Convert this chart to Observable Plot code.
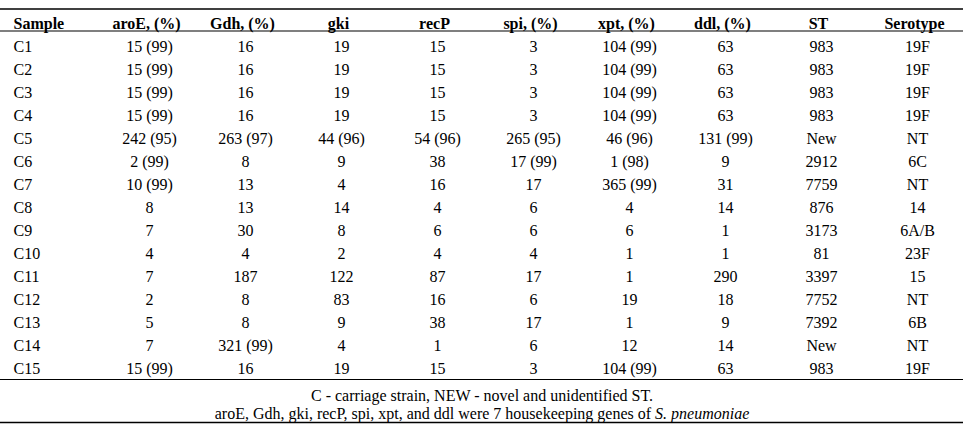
<!DOCTYPE html>
<html>
<head>
<meta charset="utf-8">
<script src="https://cdn.jsdelivr.net/npm/d3@7"></script>
<script src="https://cdn.jsdelivr.net/npm/@observablehq/plot@0.6"></script>
<style>
  html, body { margin: 0; padding: 0; background: #fff; }
  #chart svg { display: block; }
</style>
</head>
<body>
<div id="chart"></div>
<script>
// ---- data ----
const columns = ["Sample", "aroE, (%)", "Gdh, (%)", "gki", "recP", "spi, (%)", "xpt, (%)", "ddl, (%)", "ST", "Serotype"];
const samples = ["C1","C2","C3","C4","C5","C6","C7","C8","C9","C10","C11","C12","C13","C14","C15"];
const aroE = ["15 (99)","15 (99)","15 (99)","15 (99)","242 (95)","2 (99)","10 (99)","8","7","4","7","2","5","7","15 (99)"];
const gdh = ["16","16","16","16","263 (97)","8","13","13","30","4","187","8","8","321 (99)","16"];
const gki = ["19","19","19","19","44 (96)","9","4","14","8","2","122","83","9","4","19"];
const recP = ["15","15","15","15","54 (96)","38","16","4","6","4","87","16","38","1","15"];
const spi = ["3","3","3","3","265 (95)","17 (99)","17","6","6","4","17","6","17","6","3"];
const xpt = ["104 (99)","104 (99)","104 (99)","104 (99)","46 (96)","1 (98)","365 (99)","4","6","1","1","19","1","12","104 (99)"];
const ddl = ["63","63","63","63","131 (99)","9","31","14","1","1","290","18","9","14","63"];
const st = ["983","983","983","983","New","2912","7759","876","3173","81","3397","7752","7392","New","983"];
const serotype = ["19F","19F","19F","19F","NT","6C","NT","14","6A/B","23F","15","NT","6B","NT","19F"];
const captionLines = [
  "C - carriage strain, NEW - novel and unidentified ST.",
  "aroE, Gdh, gki, recP, spi, xpt, and ddl were 7 housekeeping genes of S. pneumoniae"
];
const italicPhrase = "S. pneumoniae";

// ---- build table ----
const HEAD = "__header__";
const valueCols = [aroE, gdh, gki, recP, spi, xpt, ddl, st, serotype];
const cells = [];
samples.forEach((s, i) => {
  valueCols.forEach((arr, j) => cells.push({row: s, col: columns[j + 1], value: arr[i]}));
});
const sampleRows = samples.map(s => ({row: s}));
const lastRow = samples[samples.length - 1];

const font = "Liberation Serif";
const fs = 16;

const chart = Plot.plot({
  width: 963,
  height: 433,
  marginLeft: 0,
  marginRight: 0,
  marginTop: 16,
  marginBottom: 57.5,
  style: {fontFamily: font, fontSize: "16px", color: "#000", background: "#fff"},
  x: {type: "band", domain: columns, padding: 0, axis: null},
  y: {type: "point", domain: [HEAD, ...samples], padding: 0, axis: null},
  marks: [
    // rules
    Plot.ruleY([HEAD], {y: d => d, dy: -14.5, stroke: "#000", strokeWidth: 1.5}),
    Plot.ruleY([HEAD], {y: d => d, dy: 7.5, stroke: "#000", strokeWidth: 1.2}),
    Plot.ruleY([lastRow], {y: d => d, dy: 11, stroke: "#000", strokeWidth: 1.2}),
    Plot.ruleY([lastRow], {y: d => d, dy: 54, stroke: "#000", strokeWidth: 1.5}),
    // header
    Plot.text(columns.slice(1), {x: d => d, y: () => HEAD, text: d => d, fontWeight: "bold", fill: "#000", fontFamily: font, fontSize: fs}),
    Plot.text([columns[0]], {y: () => HEAD, text: d => d, frameAnchor: "left", textAnchor: "start", dx: 13, fontWeight: "bold", fill: "#000", fontFamily: font, fontSize: fs}),
    // body
    Plot.text(sampleRows, {y: "row", text: "row", frameAnchor: "left", textAnchor: "start", dx: 13, fill: "#000", fontFamily: font, fontSize: fs}),
    Plot.text(cells, {x: "col", y: "row", text: "value", dx: 3, fill: "#000", fontFamily: font, fontSize: fs}),
    // captions
    Plot.text([captionLines[0]], {text: d => d, frameAnchor: "bottom", dy: 25, fill: "#000", fontFamily: font, fontSize: fs}),
    Plot.text([captionLines[1]], {text: d => d, frameAnchor: "bottom", dy: 43, fill: "#000", fontFamily: font, fontSize: fs})
  ]
});

// italicize the species name in the caption
d3.select(chart).selectAll("text").each(function() {
  const t = this.textContent;
  if (t === captionLines[1]) {
    const idx = t.indexOf(italicPhrase);
    const sel = d3.select(this);
    sel.text(null);
    sel.append("tspan").text(t.slice(0, idx));
    sel.append("tspan").attr("font-style", "italic").text(italicPhrase);
  }
});

document.getElementById("chart").appendChild(chart);
</script>
</body>
</html>
